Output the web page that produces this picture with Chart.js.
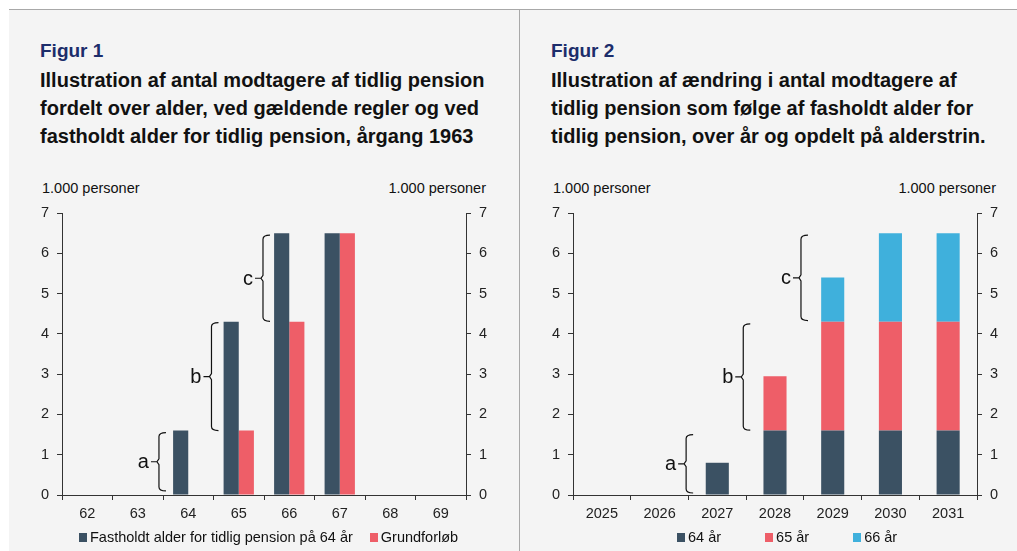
<!DOCTYPE html>
<html lang="da">
<head>
<meta charset="utf-8">
<script src="https://cdn.jsdelivr.net/npm/chart.js@4/dist/chart.umd.min.js"></script>
<style>
  body { margin: 0; background: #fff; font-family: "Liberation Sans", Arial, sans-serif; }
  #side { position: relative; width: 1017px; height: 551px; overflow: hidden; }
  .panel { position: absolute; top: 9px; bottom: 0; background: #f4f4f4; border-top: 1px solid #a8a8a8; }
  #p1 { left: 9px; width: 510px; }
  #p2 { left: 519px; width: 498px; border-left: 1px solid #a8a8a8; }
  .figur { position: absolute; font-weight: bold; font-size: 19px; color: #1c2d6b; }
  .titel { position: absolute; font-weight: bold; font-size: 20px; line-height: 28px; color: #111; white-space: nowrap; }
  .enhed { position: absolute; font-size: 14.5px; color: #111; }
  canvas { position: absolute; }
  .legende { position: absolute; display: flex; align-items: center; font-size: 14.5px; color: #111; white-space: nowrap; }
  .legende span.boks { display: inline-block; width: 8px; height: 9px; margin-right: 3px; }
</style>
</head>
<body>
<div id="side">
  <div class="panel" id="p1"></div>
  <div class="panel" id="p2"></div>

  <div class="figur" style="left:40px; top:40px;">Figur 1</div>
  <div class="titel" style="left:40px; top:66px;">Illustration af antal modtagere af tidlig pension<br>fordelt over alder, ved gældende regler og ved<br>fastholdt alder for tidlig pension, årgang 1963</div>
  <div class="enhed" style="left:42px; top:180px;">1.000 personer</div>
  <div class="enhed" style="right:531px; top:180px;">1.000 personer</div>

  <div class="figur" style="left:551px; top:40px;">Figur 2</div>
  <div class="titel" style="left:551px; top:66px;">Illustration af ændring i antal modtagere af<br>tidlig pension som følge af fasholdt alder for<br>tidlig pension, over år og opdelt på alderstrin.</div>
  <div class="enhed" style="left:553px; top:180px;">1.000 personer</div>
  <div class="enhed" style="right:21px; top:180px;">1.000 personer</div>

  <canvas id="graf1" width="480" height="335" style="left:20px; top:195px;"></canvas>
  <canvas id="graf2" width="480" height="335" style="left:530px; top:195px;"></canvas>

  <div class="legende" id="leg1" style="left:79px; top:529px; gap:17px;"></div>
  <div class="legende" id="leg2" style="left:677px; top:529px; gap:44px;"></div>
</div>

<script>
// Figur 1: alder
const alder = ['62', '63', '64', '65', '66', '67', '68', '69'];
const fastholdt = [0, 0, 1.6, 4.3, 6.5, 6.5, 0, 0];
const grundforloeb = [0, 0, 0, 1.6, 4.3, 6.5, 0, 0];

// Figur 2: år
const aar = ['2025', '2026', '2027', '2028', '2029', '2030', '2031'];
const aar64 = [0, 0, 0.8, 1.6, 1.6, 1.6, 1.6];
const aar65 = [0, 0, 0, 1.35, 2.7, 2.7, 2.7];
const aar66 = [0, 0, 0, 0, 1.1, 2.2, 2.2];

// klammer: bogstav, placering (kategori-indeks), fra, til
const klammer1 = [['a', 1.42, 0.1, 1.55], ['b', 2.46, 1.6, 4.28], ['c', 3.48, 4.31, 6.45]];
const klammer2 = [['a', 1.46, 0.05, 1.5], ['b', 2.45, 1.61, 4.25], ['c', 3.45, 4.33, 6.45]];

const yTicks = [0, 1, 2, 3, 4, 5, 6, 7];

const MOERK = '#3b5163';
const ROED = '#ee5e68';
const BLAA = '#3fb0dc';

Chart.defaults.font.family = '"Liberation Sans", Arial, sans-serif';
Chart.defaults.font.size = 14.5;
Chart.defaults.color = '#222';

const klammePlugin = {
  id: 'klammer',
  afterDatasetsDraw(chart, args, opts) {
    const ctx = chart.ctx;
    const xs = chart.scales.x, ys = chart.scales.y;
    ctx.save();
    ctx.strokeStyle = '#111';
    ctx.lineWidth = 1.2;
    ctx.fillStyle = '#111';
    ctx.font = '20px "Liberation Sans", Arial, sans-serif';
    ctx.textAlign = 'right';
    ctx.textBaseline = 'middle';
    opts.liste.forEach(([bogstav, pos, fra, til]) => {
      const x = xs.getPixelForValue(pos);
      const yTop = ys.getPixelForValue(til);
      const yBund = ys.getPixelForValue(fra);
      const yMid = (yTop + yBund) / 2;
      const r = 4;
      ctx.beginPath();
      ctx.moveTo(x + 7, yTop);
      ctx.quadraticCurveTo(x, yTop, x, yTop + r);
      ctx.lineTo(x, yMid - 3);
      ctx.lineTo(x - 2, yMid);
      ctx.lineTo(x, yMid + 3);
      ctx.lineTo(x, yBund - r);
      ctx.quadraticCurveTo(x, yBund, x + 7, yBund);
      ctx.moveTo(x - 8, yMid);
      ctx.lineTo(x - 2, yMid);
      ctx.stroke();
      ctx.fillText(bogstav, x - 10, yMid + 1);
    });
    ctx.restore();
  }
};

function akser(venstreBredde, hoejreBredde) {
  const yAkse = (pos, bredde) => ({
    position: pos,
    min: 0,
    max: 7,
    afterBuildTicks: s => { s.ticks = yTicks.map(v => ({ value: v })); },
    afterFit: s => { s.width = bredde; },
    grid: { display: true, drawOnChartArea: false, drawTicks: true, tickLength: 5, color: '#333' },
    border: { display: true, color: '#333' },
    ticks: { padding: 8, color: '#222' }
  });
  return {
    x: {
      grid: { display: true, drawOnChartArea: false, drawTicks: true, tickLength: 5, offset: true, color: '#333' },
      border: { display: true, color: '#333' },
      ticks: { padding: 5, color: '#222', maxRotation: 0 },
      afterFit: s => { s.height = 35; }
    },
    y: yAkse('left', venstreBredde),
    y2: yAkse('right', hoejreBredde)
  };
}

function lavLegende(id, datasets) {
  const el = document.getElementById(id);
  datasets.forEach(d => {
    const item = document.createElement('div');
    item.innerHTML = '<span class="boks" style="background:' + d.backgroundColor + '"></span>' + d.label;
    item.style.display = 'flex';
    item.style.alignItems = 'center';
    el.appendChild(item);
  });
}

const datasets1 = [
  { label: 'Fastholdt alder for tidlig pension på 64 år', data: fastholdt, backgroundColor: MOERK },
  { label: 'Grundforløb', data: grundforloeb, backgroundColor: ROED }
];

new Chart(document.getElementById('graf1'), {
  type: 'bar',
  data: { labels: alder, datasets: datasets1 },
  options: {
    responsive: false,
    animation: false,
    layout: { padding: { top: 18, left: 0, right: 0, bottom: 0 } },
    datasets: { bar: { categoryPercentage: 0.6, barPercentage: 1.0 } },
    plugins: { legend: { display: false }, tooltip: { enabled: false }, klammer: { liste: klammer1 } },
    scales: akser(42, 34)
  },
  plugins: [klammePlugin]
});

const datasets2 = [
  { label: '64 år', data: aar64, backgroundColor: MOERK },
  { label: '65 år', data: aar65, backgroundColor: ROED },
  { label: '66 år', data: aar66, backgroundColor: BLAA }
];

const skalaer2 = akser(43, 33);
skalaer2.x.stacked = true;
skalaer2.y.stacked = true;

new Chart(document.getElementById('graf2'), {
  type: 'bar',
  data: { labels: aar, datasets: datasets2 },
  options: {
    responsive: false,
    animation: false,
    layout: { padding: { top: 18, left: 0, right: 0, bottom: 0 } },
    datasets: { bar: { categoryPercentage: 1.0, barPercentage: 0.4 } },
    plugins: { legend: { display: false }, tooltip: { enabled: false }, klammer: { liste: klammer2 } },
    scales: skalaer2
  },
  plugins: [klammePlugin]
});

lavLegende('leg1', datasets1);
lavLegende('leg2', datasets2);
</script>
</body>
</html>
